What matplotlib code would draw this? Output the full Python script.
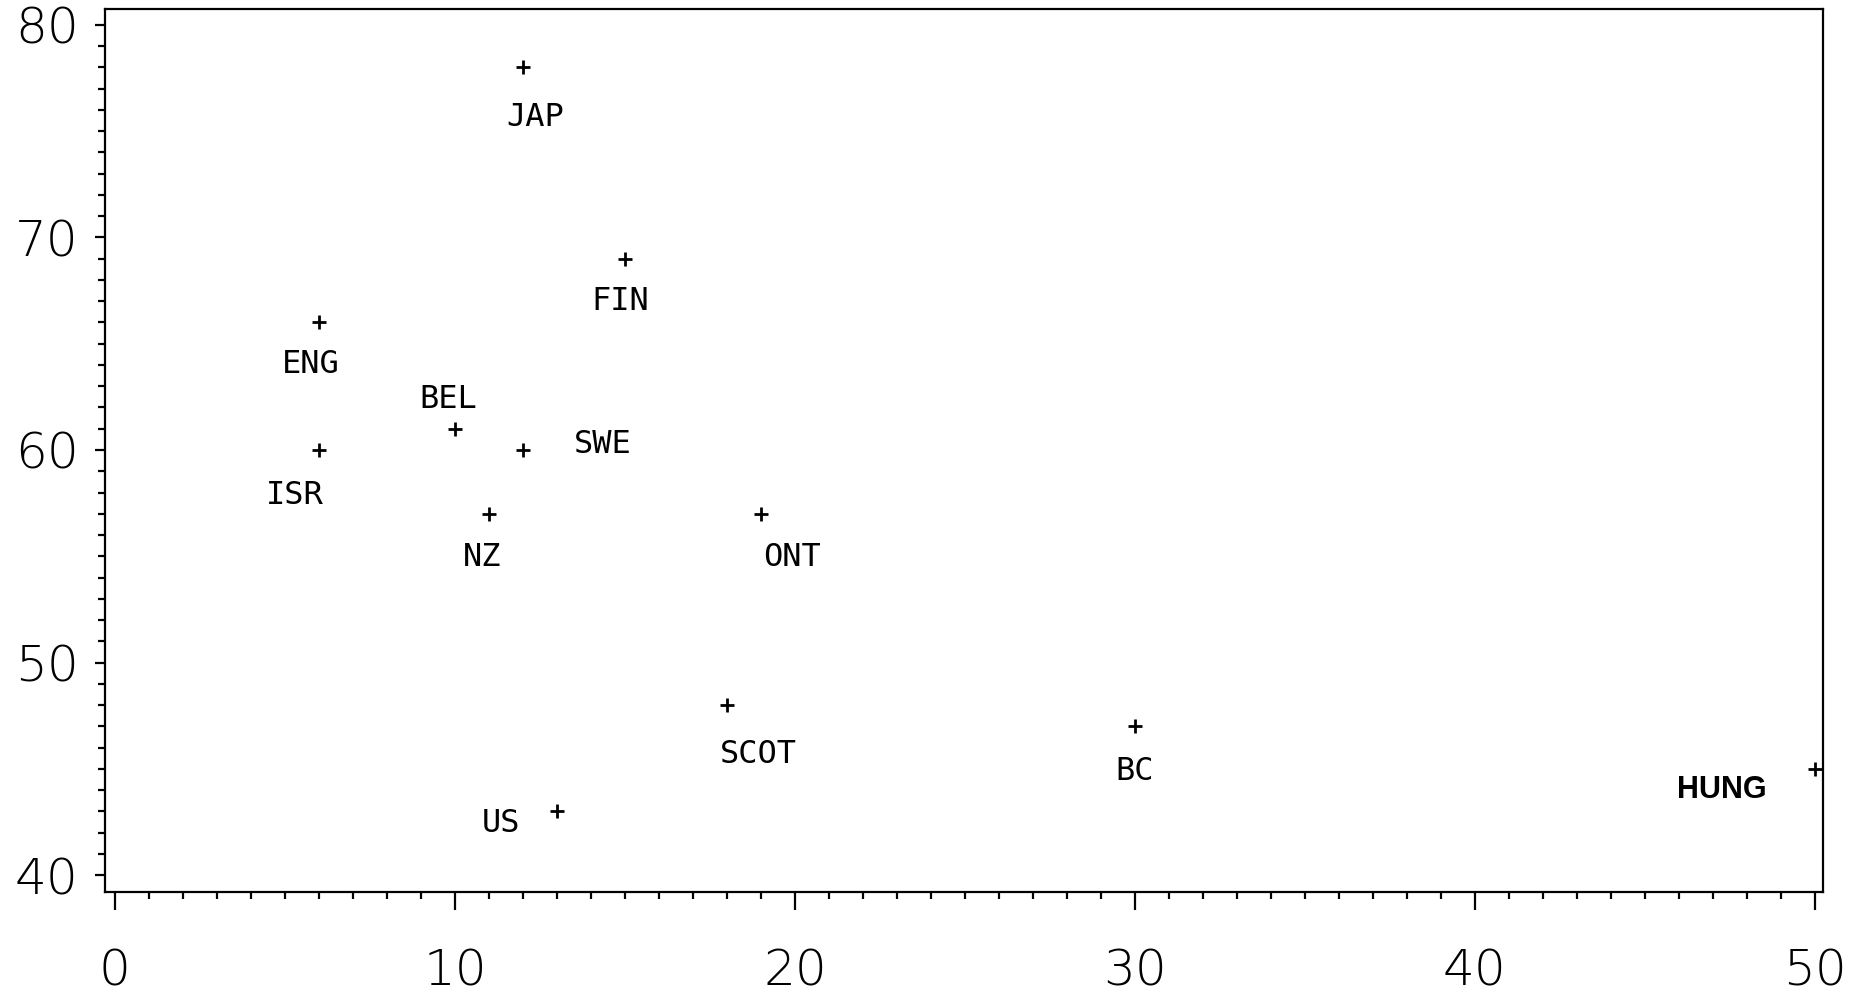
import matplotlib
matplotlib.use("Agg")
import matplotlib.pyplot as plt
from matplotlib.ticker import MultipleLocator

# Data
countries = ["JAP", "FIN", "ENG", "BEL", "SWE", "ISR", "NZ", "ONT", "SCOT", "BC", "US", "HUNG"]
x_values = [12, 15, 6, 10, 12, 6, 11, 19, 18, 30, 13, 50]
y_values = [78, 69, 66, 61, 60, 60, 57, 57, 48, 47, 43, 45]
x_ticks = [0, 10, 20, 30, 40, 50]
y_ticks = [40, 50, 60, 70, 80]

# Label placement (offset in pixels relative to point)
label_offsets = {
    "JAP": (12, -50), "FIN": (-5, -43), "ENG": (-8, -42), "BEL": (-7, 29),
    "SWE": (80, 5), "ISR": (-24, -46), "NZ": (-7, -44), "ONT": (31, -44),
    "SCOT": (31, -49), "BC": (0, -45), "US": (-56, -12), "HUNG": (-93, -21),
}

fig = plt.figure(figsize=(18.66, 9.94), dpi=100)
ax = fig.add_axes([0.0563, 0.1026, 0.9207, 0.8883])

ax.plot(x_values, y_values, linestyle="none", marker="+", markersize=10,
        markeredgewidth=2.0, color="black")

for name, xv, yv in zip(countries, x_values, y_values):
    dx, dy = label_offsets[name]
    if name == "HUNG":
        kw = dict(fontfamily="Liberation Sans", fontweight="bold", fontsize=22)
    else:
        kw = dict(fontfamily="DejaVu Sans Mono", fontsize=23)
    ax.annotate(name, (xv, yv), xytext=(dx, dy), textcoords="offset pixels",
                ha="center", va="center", color="black", **kw)

ax.set_xlim(-0.29, 50.24)
ax.set_ylim(39.2, 80.75)
ax.set_xticks(x_ticks)
ax.set_yticks(y_ticks)
ax.xaxis.set_minor_locator(MultipleLocator(1))
ax.yaxis.set_minor_locator(MultipleLocator(1))

for s in ax.spines.values():
    s.set_linewidth(1.6)
    s.set_color("black")

ax.tick_params(axis="x", which="major", direction="out", length=13, width=1.6,
               pad=27, labelsize=36)
ax.tick_params(axis="x", which="minor", direction="out", length=5, width=1.6)
ax.tick_params(axis="y", which="major", direction="out", length=7, width=1.6,
               pad=12, labelsize=36)
ax.tick_params(axis="y", which="minor", direction="out", length=5, width=1.6)

for lab in ax.get_xticklabels() + ax.get_yticklabels():
    lab.set_fontfamily("DejaVu Sans")
    lab.set_fontweight("light")

fig.savefig("out.png", dpi=100)
